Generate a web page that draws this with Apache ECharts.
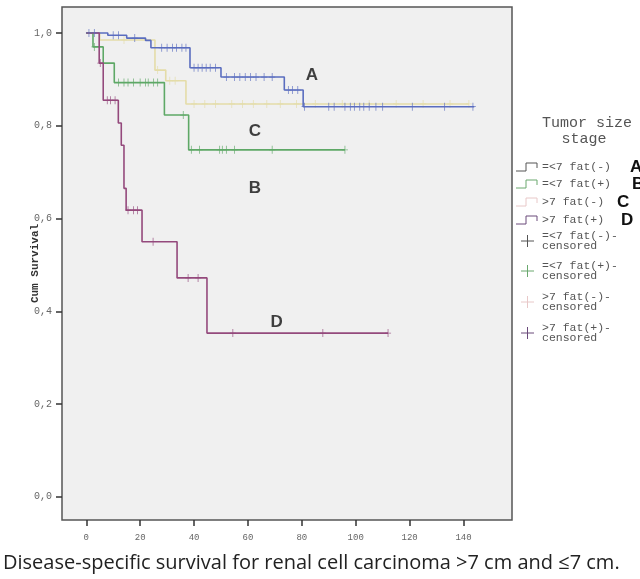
<!DOCTYPE html>
<html>
<head>
<meta charset="utf-8">
<script src="https://cdn.jsdelivr.net/npm/echarts@6/dist/echarts.min.js"></script>
<style>
html, body { margin: 0; padding: 0; background: #fff; }
#chart { width: 640px; height: 579px; }
</style>
</head>
<body>
<div id="chart"></div>
<script>
// Kaplan-Meier steps: time (months) and survival after the event at that time
const timeA = [0, 8, 15, 22, 24, 38.5, 50, 73.5, 80.5, 144]
const survA = [1, 0.995, 0.989, 0.984, 0.968, 0.925, 0.905, 0.877, 0.841, 0.841]
const censA = [1, 3, 10, 12, 18, 28, 30, 32, 33.5, 35.5, 37, 40, 41.5, 43, 44.5, 46, 48, 52, 55, 57, 59, 61, 63, 66, 69,
    75, 76.5, 78.5, 81, 90, 92, 96, 98, 99.5, 101.5, 103, 105, 107.5, 110, 121, 133, 143.5]

const timeB = [0, 2.5, 6.3, 10.4, 29, 38, 96]
const survB = [1, 0.97, 0.935, 0.893, 0.823, 0.748, 0.748]
const censB = [3, 12, 14, 15.5, 17.5, 20, 22, 23, 25, 26.5, 36, 39, 42, 49.5, 50.5, 52, 55, 69, 96]

const timeC = [0, 5, 25.5, 29.5, 37, 142]
const survC = [1, 0.985, 0.92, 0.897, 0.847, 0.847]
const censC = [14, 26.5, 31, 33, 40, 44, 48, 54, 58, 62, 67, 72, 78, 85, 95, 105, 115, 125, 135, 142]

const timeD = [0, 4.8, 6.3, 11.9, 13, 14, 14.8, 20.7, 33.7, 44.8, 112]
const survD = [1, 0.935, 0.855, 0.806, 0.758, 0.665, 0.618, 0.55, 0.472, 0.353, 0.353]
const censD = [5.2, 7.8, 9, 10.7, 15.5, 17.5, 19, 24.8, 37.8, 41.5, 54.4, 87.8, 112]

const xTicks = [0, 20, 40, 60, 80, 100, 120, 140]
const yTicks = [0, 0.2, 0.4, 0.6, 0.8, 1.0]

const groupNames = ['=<7 fat(-)', '=<7 fat(+)', '>7 fat(-)', '>7 fat(+)']
const groupLetters = ['A', 'B', 'C', 'D']
// letter labels inside the plot: [time, survival]
const letterPos = [[83.7, 0.909], [62.6, 0.666], [62.6, 0.787], [70.7, 0.377]]

const colors = ['#5a6dbf', '#5ea866', '#e4dca8', '#94497c']
const legendColors = ['#555', '#6aa86e', '#e8c8c8', '#6a4a7a']

const stepsOf = (t, s) => t.map((v, i) => [v, s[i]])
// survival value of the step curve at a censoring time
const survAt = (t, s, x) => {
    let v = s[0]
    t.forEach((tt, i) => { if (tt <= x) v = s[i] })
    return v
}
const marksOf = (t, s, c) => c.map(x => [x, survAt(t, s, x)])

const curves = [[timeA, survA, censA], [timeB, survB, censB], [timeC, survC, censC], [timeD, survD, censD]]

const plusPath = 'path://M2.6,0H3.4V8H2.6ZM0,3.6H6V4.4H0Z'

let series = []
curves.forEach((c, i) => {
    series.push({
        name: groupNames[i],
        type: 'line',
        step: 'end',
        data: stepsOf(c[0], c[1]),
        symbol: 'none',
        lineStyle: { color: colors[i], width: 1.6 },
        z: i === 2 ? 1 : 3,
        animation: false
    })
    series.push({
        name: groupNames[i] + '-censored',
        type: 'scatter',
        data: marksOf(c[0], c[1], c[2]),
        symbol: plusPath,
        symbolSize: [6, 8],
        itemStyle: { color: colors[i] },
        z: i === 2 ? 2 : 4,
        animation: false
    })
})
series.push({
    name: 'letters',
    type: 'scatter',
    data: letterPos.map((p, i) => [p[0], p[1], groupLetters[i]]),
    symbolSize: 0,
    label: {
        show: true,
        position: 'inside',
        formatter: p => p.data[2],
        fontFamily: 'Liberation Sans',
        fontWeight: 'bold',
        fontSize: 17,
        color: '#111'
    },
    silent: true,
    animation: false
})

// legend drawn on the right, outside the plot frame
let graphics = [
    { type: 'text', x: 587, y: 123, style: { text: 'Tumor size', font: '15px "Liberation Mono"', fill: '#555', align: 'center', verticalAlign: 'middle' } },
    { type: 'text', x: 584, y: 139, style: { text: 'stage', font: '15px "Liberation Mono"', fill: '#555', align: 'center', verticalAlign: 'middle' } }
]
const lineRowY = [167, 184, 202, 220]
const letterX = [630, 632, 617, 621]
groupNames.forEach((n, i) => {
    let y = lineRowY[i]
    graphics.push({
        type: 'polyline',
        shape: { points: [[516, y + 4], [526, y + 4], [526, y - 4], [537, y - 4], [537, y + 1]] },
        style: { stroke: legendColors[i], lineWidth: 1, fill: null }
    })
    graphics.push({ type: 'text', x: 542, y: y, style: { text: n, font: '11.5px "Liberation Mono"', fill: '#555', verticalAlign: 'middle' } })
    graphics.push({ type: 'text', x: letterX[i], y: y, style: { text: groupLetters[i], font: 'bold 17px "Liberation Sans"', fill: '#111', verticalAlign: 'middle' } })
})
const censRowY = [236, 266, 297, 328]
groupNames.forEach((n, i) => {
    let y = censRowY[i]
    graphics.push({ type: 'line', shape: { x1: 521, y1: y + 5, x2: 534, y2: y + 5 }, style: { stroke: legendColors[i], lineWidth: 1 } })
    graphics.push({ type: 'line', shape: { x1: 527.5, y1: y - 1, x2: 527.5, y2: y + 11 }, style: { stroke: legendColors[i], lineWidth: 1 } })
    graphics.push({ type: 'text', x: 542, y: y - 5, style: { text: n + '-\ncensored', font: '11.5px "Liberation Mono"', fill: '#555', lineHeight: 10 } })
})
graphics.push({
    type: 'text', x: 3, y: 563,
    style: { text: 'Disease-specific survival for renal cell carcinoma >7 cm and \u22647 cm.', font: '20px "Open Sans"', fill: '#222', verticalAlign: 'middle' }
})

const chart = echarts.init(document.getElementById('chart'))
chart.setOption({
    backgroundColor: '#fff',
    animation: false,
    grid: {
        left: 62, top: 7, right: 128, bottom: 59,
        show: true, backgroundColor: '#f0f0f0', borderColor: '#555', borderWidth: 1.5
    },
    xAxis: {
        type: 'value',
        min: -9, max: 158,
        axisLine: { show: false, onZero: false },
        splitLine: { show: false },
        axisTick: { show: true, customValues: xTicks, length: 6, lineStyle: { color: '#333', width: 1.5 } },
        axisLabel: { customValues: xTicks, margin: 13, fontFamily: 'Liberation Mono', fontSize: 9, color: '#666' }
    },
    yAxis: {
        type: 'value',
        min: -0.05, max: 1.056,
        name: 'Cum Survival',
        nameLocation: 'middle',
        nameRotate: 90,
        nameGap: 21,
        nameMoveOverlap: false,
        nameTextStyle: { fontFamily: 'Liberation Mono', fontWeight: 'bold', fontSize: 11, color: '#333' },
        axisLine: { show: false, onZero: false },
        splitLine: { show: false },
        axisTick: { show: true, customValues: yTicks, length: 6, lineStyle: { color: '#333', width: 1.5 } },
        axisLabel: {
            customValues: yTicks, margin: 10,
            formatter: v => v.toFixed(1).replace('.', ','),
            fontFamily: 'Liberation Mono', fontSize: 10, color: '#666'
        }
    },
    graphic: graphics,
    series: series
})
</script>
</body>
</html>
